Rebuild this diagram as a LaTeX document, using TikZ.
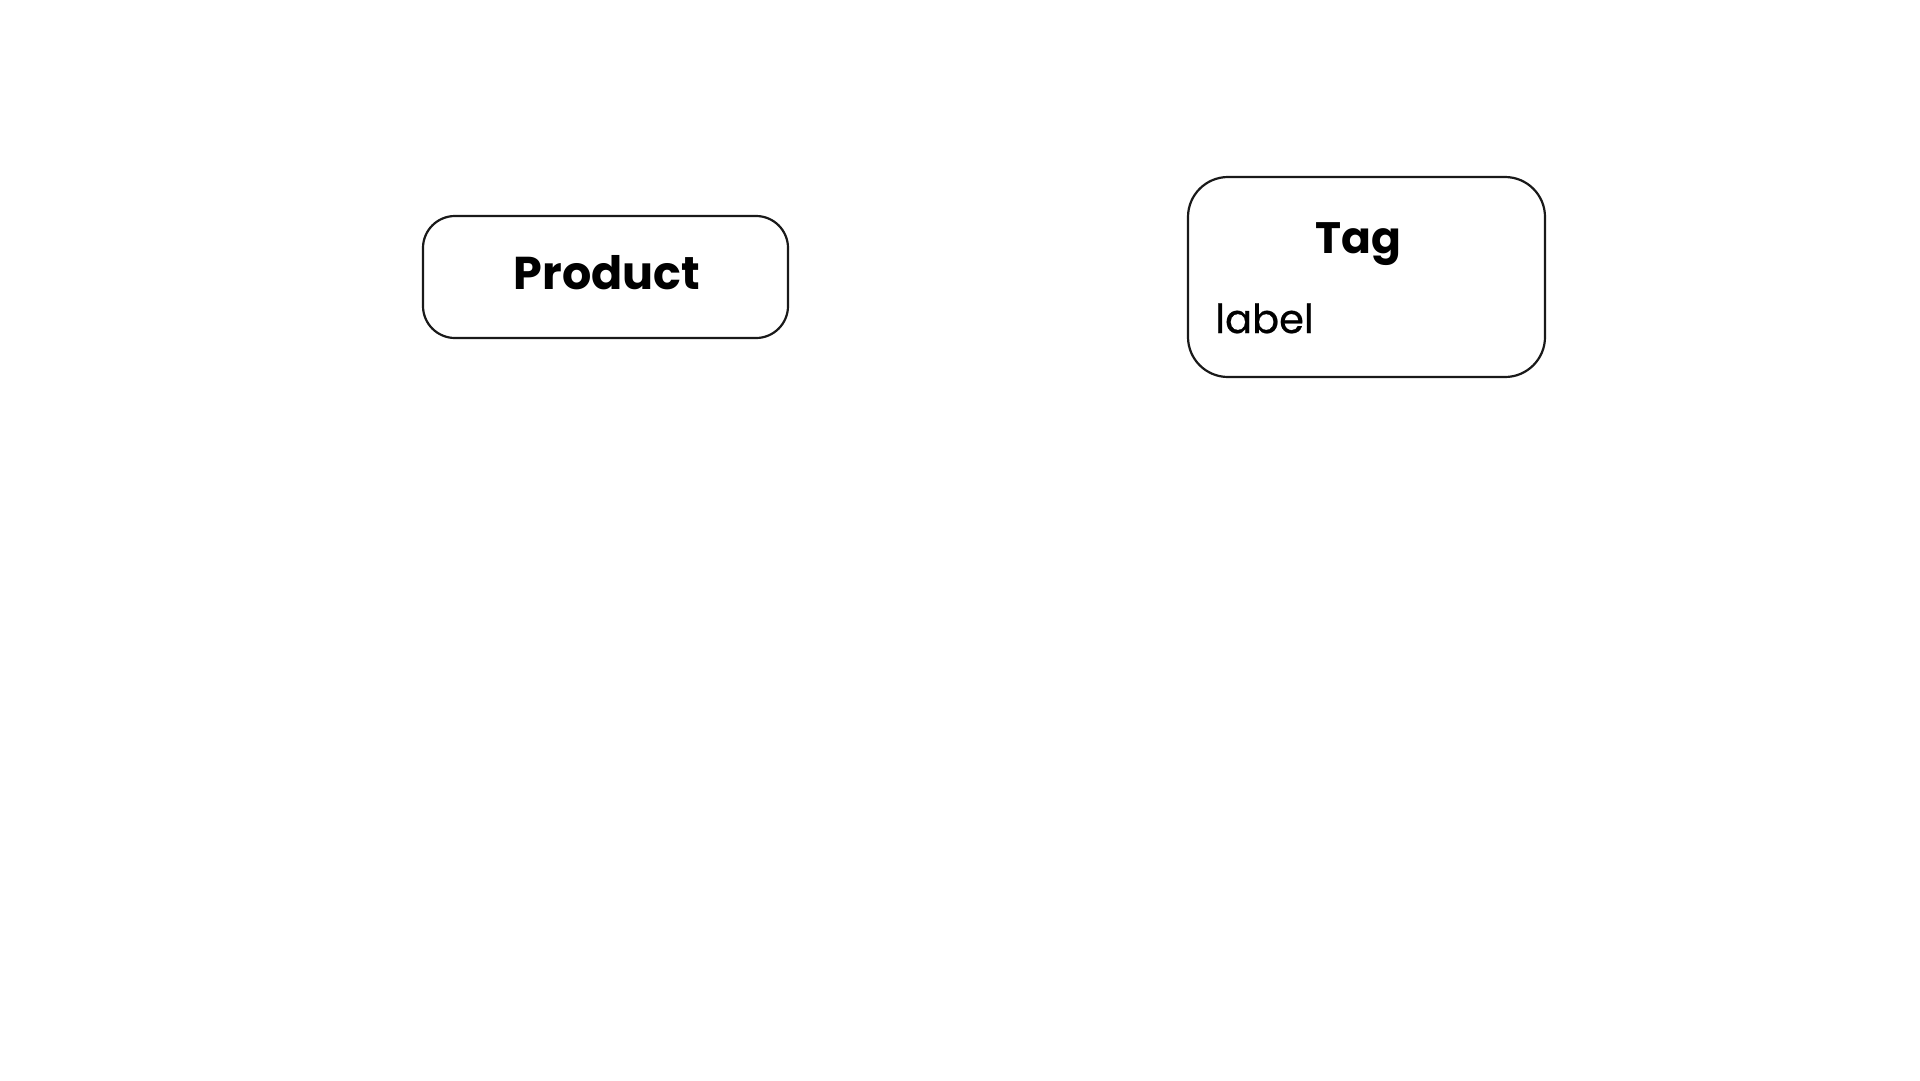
\documentclass[tikz,border=0pt]{standalone}
\usepackage{fontspec}
\setmainfont{Poppins}
\newfontfamily\mediumface[FakeBold=0.6]{Poppins}
\begin{document}
\begin{tikzpicture}[x=1pt,y=-1pt,
  entitybox/.style={draw=black!90,line width=2.2pt,fill=white,inner sep=0pt},
  titletext/.style={inner sep=0pt,font=\bfseries},
  attrtext/.style={inner sep=0pt}]
\useasboundingbox[fill=white] (0,0) rectangle (1920,1080);
\node[entitybox,rounded corners=32pt,minimum width=365pt,minimum height=122pt] (product) at (605.5,277) {};
\node[titletext,anchor=base,font=\fontsize{46}{50}\selectfont\bfseries] (producttitle) at (607,289) {Product};
\node[entitybox,rounded corners=40pt,minimum width=357pt,minimum height=200pt] (tag) at (1366.5,277) {};
\node[titletext,anchor=base,font=\fontsize{44}{48}\selectfont\bfseries] (tagtitle) at (1358,253) {Tag};
\node[attrtext,anchor=base west,font=\fontsize{40}{44}\selectfont\mediumface] (taglabel) at (1215,333) {label};
\end{tikzpicture}
\end{document}
